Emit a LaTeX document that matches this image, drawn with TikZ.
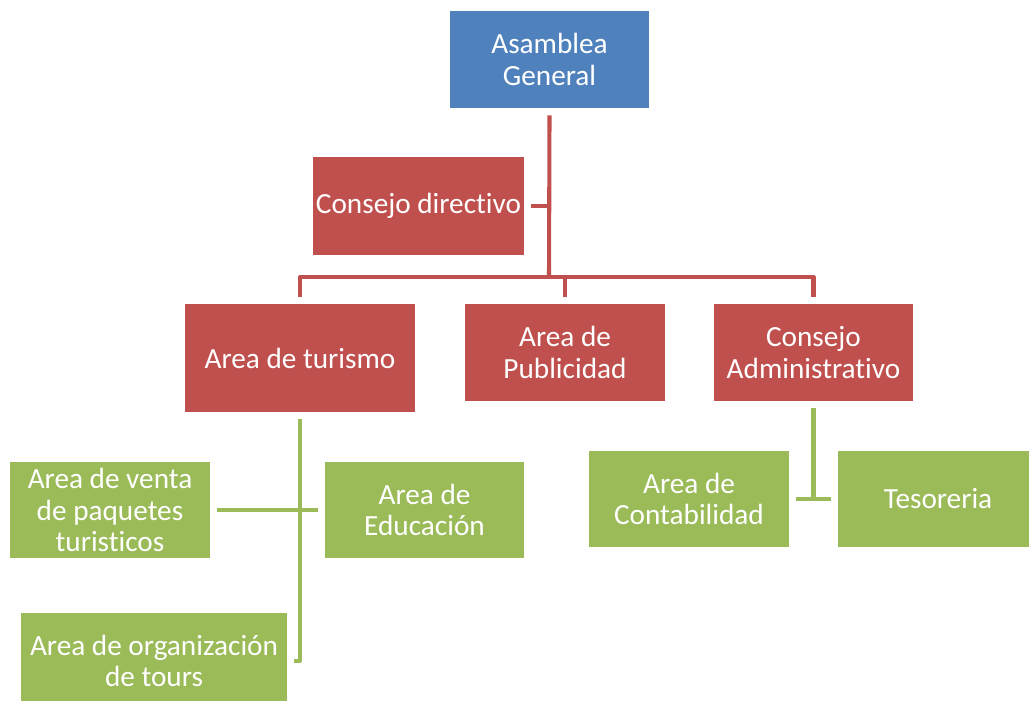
\documentclass[tikz,border=0pt]{standalone}
\usepackage{fontspec}
\setmainfont{Carlito}[Ligatures=NoCommon]
\usetikzlibrary{calc}
\definecolor{asamblue}{HTML}{4F81BD}
\definecolor{orgred}{HTML}{C0504D}
\definecolor{orggreen}{HTML}{9BBB59}

\begin{document}
\begin{tikzpicture}[x=0.025cm, y=-0.025cm,
        box/.style={inner sep=2pt, align=center, text=white, font=\fontsize{20.8}{22.5}\selectfont},
        bluebox/.style={box, fill=asamblue},
        redbox/.style={box, fill=orgred},
        greenbox/.style={box, fill=orggreen},
        redline/.style={draw=orgred, line width=2.9pt, line join=round},
        greenline/.style={draw=orggreen, line width=2.9pt, line join=round}]
        \def\gap{7}
        \useasboundingbox (0,0) rectangle (1029,700);

        \node [bluebox, minimum width=4.975cm, minimum height=2.425cm] (asam) at (549.5,59.5) {Asamblea\\General};
        \node [redbox, minimum width=5.275cm, minimum height=2.45cm] (cdir) at (418.5,206) {Consejo directivo};

        \node [redbox, minimum width=5.75cm, minimum height=2.7cm] (tur) at (300,358) {Area de turismo};
        \node [redbox, minimum width=5cm, minimum height=2.425cm] (pub) at (565,352.5) {Area de\\Publicidad};
        \node [redbox, minimum width=4.975cm, minimum height=2.425cm] (cadm) at (813.5,352.5) {Consejo\\Administrativo};

        \node [greenbox, minimum width=5cm, minimum height=2.4cm] (venta) at (110,510) {Area de venta\\de paquetes\\turisticos};
        \node [greenbox, minimum width=4.975cm, minimum height=2.4cm] (edu) at (424.5,510) {Area de\\Educación};
        \node [greenbox, minimum width=6.65cm, minimum height=2.4cm] (org) at (154,661) {Area de organización\\de tours};

        \node [greenbox, minimum width=5cm, minimum height=2.4cm] (cont) at (689,499) {Area de\\Contabilidad};
        \node [greenbox, minimum width=5cm, minimum height=2.4cm] (tes) at (938,499) {Tesoreria};

        % red tree
        \coordinate (bar) at (549,277);
        \draw [redline] ($(asam.south)+(0,\gap)$) -- (bar);
        \draw [redline] ($(cdir.east)+(\gap,0)$) -- (cdir.east -| bar);
        \draw [redline] ($(tur.north)+(0,-\gap)$) -- (tur.north |- bar) -- (cadm.north |- bar) -- ($(cadm.north)+(0,-\gap)$);
        \draw [redline] ($(pub.north)+(0,-\gap)$) -- (pub.north |- bar);

        % green branches
        \draw [greenline] ($(tur.south)+(0,\gap)$) -- (tur.south |- org.east) -- ($(org.east)+(\gap,0)$);
        \draw [greenline] ($(venta.east)+(\gap,0)$) -- ($(edu.west)+(-\gap,0)$);
        \draw [greenline] ($(cadm.south)+(0,\gap)$) -- (cadm.south |- cont.east);
        \draw [greenline] ($(cont.east)+(\gap,0)$) -- ($(tes.west)+(-\gap,0)$);
    \end{tikzpicture}
\end{document}
